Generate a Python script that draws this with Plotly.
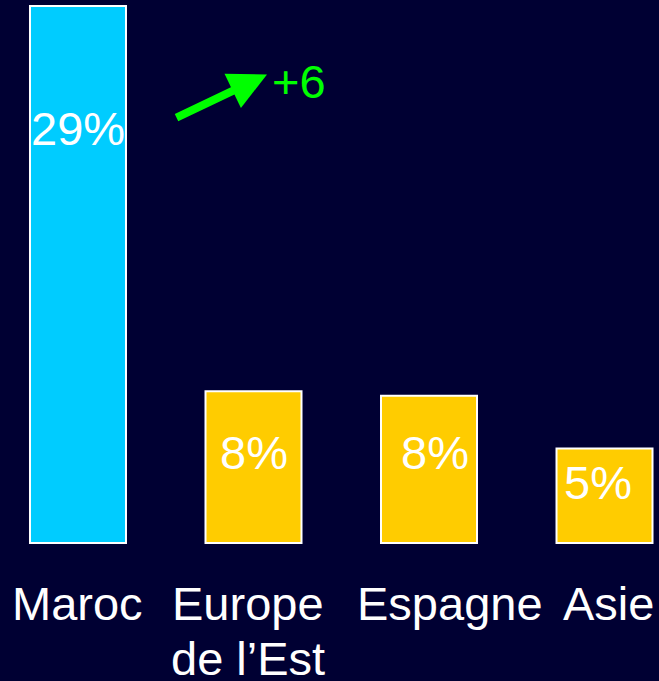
import plotly.graph_objects as go

categories = ["Maroc", "Europe<br>de l\u2019Est", "Espagne", "Asie"]
values = [29, 8.2, 7.95, 5.1]
value_labels = ["29%", "8%", "8%", "5%"]
bar_colors = ["#00CCFF", "#FFCC00", "#FFCC00", "#FFCC00"]
change_label = "+6"

FONT = "Liberation Sans, Arial, sans-serif"
BG = "#000033"

x_idx = list(range(len(categories)))

fig = go.Figure()
fig.add_trace(go.Bar(
    x=x_idx, y=values, width=0.547,
    marker=dict(color=bar_colors, line=dict(color="white", width=2)),
    hoverinfo="skip",
))

# value label placement (layout only)
label_y = [22.4, 4.91, 4.91, 3.29]
label_dx = [0, 0, 6, -7]
for i, t in enumerate(value_labels):
    fig.add_annotation(x=x_idx[i], y=label_y[i], xref="x", yref="y", text=t,
                       showarrow=False, xshift=label_dx[i], yanchor="middle",
                       font=dict(family=FONT, size=47, color="white"))

# category labels (each line placed separately for tight line spacing)
cat_dx = [0, -6, 21, 4]
for i, c in enumerate(categories):
    for k, line in enumerate(c.split("<br>")):
        fig.add_annotation(x=x_idx[i], y=-1.70, xref="x", yref="y", text=line,
                           showarrow=False, xshift=cat_dx[i], yshift=-55 * k,
                           yanchor="top", align="center",
                           font=dict(family=FONT, size=47, color="white"))

# green arrow and change label
fig.add_annotation(x=1.077, y=25.3, xref="x", yref="y", text="",
                   showarrow=True, ax=-92, ay=44, axref="pixel", ayref="pixel",
                   arrowhead=2, arrowsize=0.95, arrowwidth=8, arrowcolor="#00FF00")
fig.add_annotation(x=1.26, y=24.9, xref="x", yref="y", text=change_label,
                   showarrow=False, yanchor="middle",
                   font=dict(family=FONT, size=47, color="#00FF00"))

fig.update_layout(
    width=659, height=681,
    margin=dict(l=0, r=0, t=0, b=0),
    paper_bgcolor=BG, plot_bgcolor=BG,
    showlegend=False,
    xaxis=dict(range=[-0.4444, 3.3105], visible=False, fixedrange=True),
    yaxis=dict(range=[-7.45, 29.32], visible=False, fixedrange=True),
)

fig.write_html("out.html", config={"displayModeBar": False},
               post_script="document.body.style.margin='0px';"
                           "document.body.style.background='#000033';")
